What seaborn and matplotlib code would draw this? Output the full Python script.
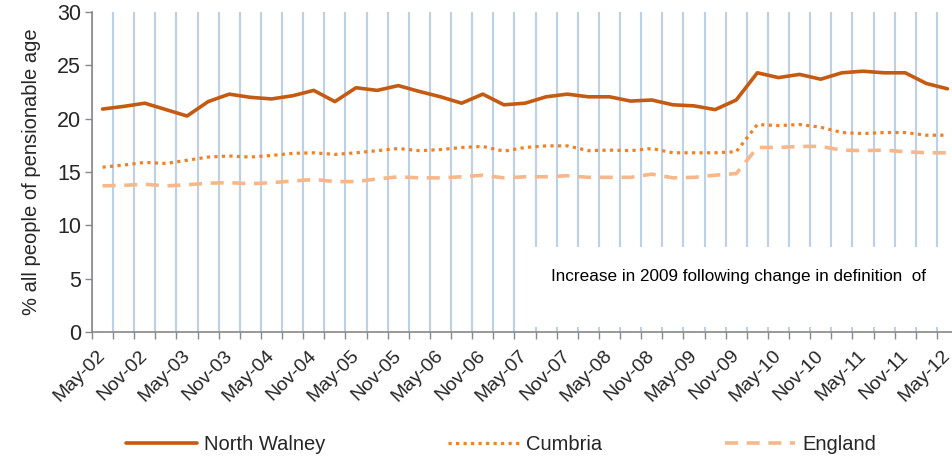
import numpy as np
import pandas as pd
import matplotlib
matplotlib.use("Agg")
import matplotlib.pyplot as plt
from matplotlib.patches import Rectangle
from matplotlib.lines import Line2D
import seaborn as sns

quarters = ["May-02", "Aug-02", "Nov-02", "Feb-03", "May-03", "Aug-03", "Nov-03", "Feb-04",
            "May-04", "Aug-04", "Nov-04", "Feb-05", "May-05", "Aug-05", "Nov-05", "Feb-06",
            "May-06", "Aug-06", "Nov-06", "Feb-07", "May-07", "Aug-07", "Nov-07", "Feb-08",
            "May-08", "Aug-08", "Nov-08", "Feb-09", "May-09", "Aug-09", "Nov-09", "Feb-10",
            "May-10", "Aug-10", "Nov-10", "Feb-11", "May-11", "Aug-11", "Nov-11", "Feb-12",
            "May-12"]
north_walney = [20.9, 21.15, 21.45, 20.85, 20.25, 21.6, 22.3, 22.0, 21.85, 22.15,
                22.65, 21.6, 22.9, 22.65, 23.1, 22.55, 22.05, 21.45, 22.3, 21.3,
                21.45, 22.05, 22.3, 22.05, 22.05, 21.65, 21.75, 21.3, 21.2, 20.85,
                21.75, 24.3, 23.85, 24.15, 23.7, 24.3, 24.45, 24.3, 24.3, 23.3, 22.8]
cumbria = [15.45, 15.65, 15.9, 15.8, 16.1, 16.4, 16.5, 16.4, 16.55, 16.75,
           16.8, 16.65, 16.8, 17.0, 17.2, 17.0, 17.1, 17.3, 17.4, 16.95,
           17.3, 17.45, 17.45, 17.0, 17.05, 17.0, 17.2, 16.8, 16.8, 16.8,
           16.9, 19.45, 19.35, 19.45, 19.2, 18.7, 18.6, 18.7, 18.7, 18.45, 18.45]
england = [13.7, 13.75, 13.85, 13.7, 13.8, 13.95, 14.0, 13.9, 14.0, 14.15,
           14.3, 14.1, 14.1, 14.35, 14.55, 14.45, 14.45, 14.55, 14.7, 14.45,
           14.55, 14.55, 14.65, 14.5, 14.5, 14.5, 14.8, 14.45, 14.5, 14.7,
           14.85, 17.3, 17.3, 17.4, 17.4, 17.05, 17.0, 17.05, 16.9, 16.8, 16.8]
series_names = ["North Walney", "Cumbria", "England"]
tick_labels = quarters[::2]
y_ticks = [0, 5, 10, 15, 20, 25, 30]
annotation = "Increase in 2009 following change in definition  of"
y_label = "% all people of pensionable age"

sns.set_theme(style="white")
plt.rcParams["font.family"] = ["Liberation Sans", "DejaVu Sans"]

idx = np.arange(len(quarters))
df = pd.DataFrame({
    "idx": np.tile(idx, 3),
    "value": north_walney + cumbria + england,
    "series": np.repeat(series_names, len(quarters)),
})

colors = {"North Walney": "#C55A11", "Cumbria": "#F28124", "England": "#F7B789"}
widths = {"North Walney": 2.6, "Cumbria": 2.3, "England": 2.6}
dash_styles = {"North Walney": None, "Cumbria": (1.0, 1.35), "England": (3.6, 2.4)}

fig = plt.figure(figsize=(9.53, 4.57), dpi=100)
ax = fig.add_axes([92 / 953, 1 - 332 / 457, 866 / 953, 320 / 457])

handles = []
for name in series_names:
    sub = df[df["series"] == name]
    sns.lineplot(data=sub, x="idx", y="value", ax=ax, color=colors[name],
                 lw=widths[name], legend=False, zorder=3)
    line = ax.lines[-1]
    if dash_styles[name] is not None:
        line.set_dashes(dash_styles[name])
    line.set_dash_capstyle("butt")
    h = Line2D([], [], color=colors[name], lw=widths[name])
    if dash_styles[name] is not None:
        h.set_dashes(dash_styles[name])
    handles.append(h)

ax.set_xlim(-0.5, len(quarters) - 0.5)
ax.set_ylim(0, 30)
ax.set_yticks(y_ticks)
ax.set_yticklabels([str(v) for v in y_ticks], fontsize=15.5)
ax.set_xticks(idx[::2])
ax.set_xticklabels(tick_labels, rotation=45, ha="right", va="center",
                   rotation_mode="anchor", fontsize=14)
ax.set_xticks(np.arange(-0.5, len(quarters), 1.0), minor=True)
ax.tick_params(axis="x", which="major", length=0, pad=15)
ax.tick_params(axis="x", which="minor", length=5, width=1, color="#888888",
               direction="out", bottom=True)
ax.tick_params(axis="y", length=5, width=1, color="#888888", direction="out",
               left=True, pad=3)
ax.grid(False)
ax.xaxis.grid(True, which="minor", color="#BCD0E8", lw=1.5)
ax.set_axisbelow(True)
for s in ["top", "right"]:
    ax.spines[s].set_visible(False)
for s in ["left", "bottom"]:
    ax.spines[s].set_color("#888888")
    ax.spines[s].set_linewidth(1.2)
ax.set_xlabel("")
ax.set_ylabel(y_label, fontsize=14.5, labelpad=11)

ax.add_patch(Rectangle((0.5, 0.016), 0.52, 0.25, transform=ax.transAxes,
                       facecolor="white", edgecolor="none", zorder=2, clip_on=False))
ax.text(0.530, 0.172, annotation, transform=ax.transAxes, fontsize=12.3,
        va="center", ha="left", zorder=4, color="black")

fig.legend(handles, series_names, loc="center", bbox_to_anchor=(0.526, 0.028),
           ncol=3, frameon=False, fontsize=14.5, handlelength=3.5,
           handletextpad=0.35, columnspacing=6.1)

fig.savefig("out.png", dpi=100)
